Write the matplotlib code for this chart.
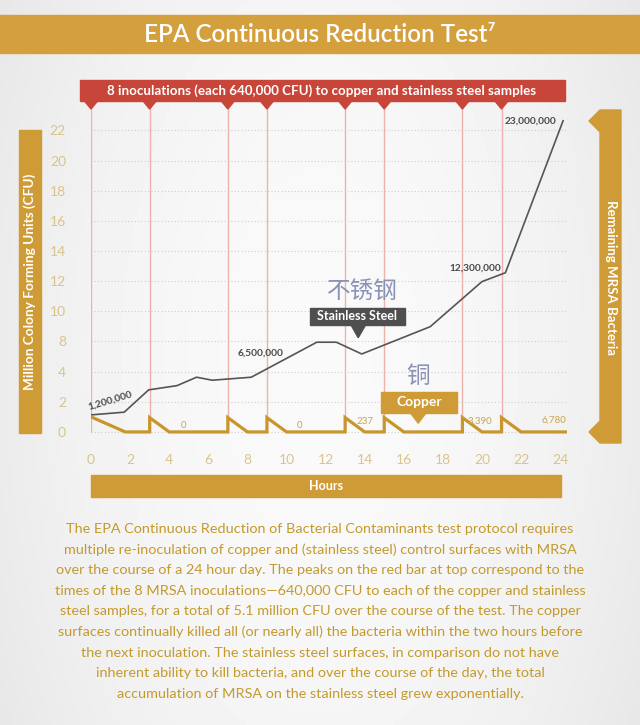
import numpy as np
import matplotlib
matplotlib.use("Agg")
import matplotlib.pyplot as plt
from matplotlib import transforms
from matplotlib.patches import Rectangle, Polygon

plt.rcParams['font.family'] = ['Lato', 'DejaVu Sans']

W, H = 640, 725
GOLD = '#cf9b36'
RED = '#c8453a'
GREY = '#555555'
PALE = '#d8c48c'
CJK = ['Noto Sans CJK SC', 'DejaVu Sans']

# hours of the 8 inoculations
inoc_hours = [0, 3, 7, 9, 13, 15, 19, 21]

# stainless steel curve, y in the chart's own units (its axis skips the "6")
steel_hours = [0, 1.7, 2.95, 4.4, 5.4, 6.2, 8.2, 11.55, 12.55, 13.85, 17.35, 20.0, 21.2, 24.15]
steel_y = [1.13, 1.31, 2.79, 3.07, 3.63, 3.43, 3.63, 5.95, 5.95, 5.17, 6.98, 9.97, 10.56, 20.64]

# copper sawtooth
copper_hours = [0, 1.75, 3, 3, 4, 7, 7, 8, 9, 9, 10, 13, 13, 14, 15, 15, 16, 19, 19, 20, 21, 21, 22, 24.3]
copper_y = [1.0, 0, 0, 0.95, 0, 0, 0.95, 0, 0, 0.95, 0, 0, 0.95, 0, 0, 0.95, 0, 0, 0.95, 0, 0, 0.95, 0, 0]

ytick_pos = [0, 2, 4, 6, 8, 10, 12, 14, 16, 18, 20]
ytick_labels = ['0', '2', '4', '8', '10', '12', '14', '16', '18', '20', '22']
xtick_pos = list(range(0, 25, 2))

steel_notes = [('1,200,000', 1.0, 2.05, 17), ('6,500,000', 8.65, 5.25, 0),
               ('12,300,000', 19.65, 10.85, 0), ('23,000,000', 22.5, 20.6, 0)]
copper_notes = [('0', 4.75, 0.45), ('0', 10.65, 0.45), ('237', 14.0, 0.68),
                ('3,390', 19.9, 0.72), ('6,780', 23.7, 0.8)]

paragraph = [
    "The EPA Continuous Reduction of Bacterial Contaminants test protocol requires",
    "multiple re-inoculation of copper and (stainless steel) control surfaces with MRSA",
    "over the course of a 24 hour day. The peaks on the red bar at top correspond to the",
    "times of the 8 MRSA inoculations\u2014640,000 CFU to each of the copper and stainless",
    "steel samples, for a total of 5.1 million CFU over the course of the test. The copper",
    "surfaces continually killed all (or nearly all) the bacteria within the two hours before",
    "the next inoculation. The stainless steel surfaces, in comparison do not have",
    "inherent ability to kill bacteria, and over the course of the day, the total",
    "accumulation of MRSA on the stainless steel grew exponentially.",
]


def fx(px):
    return px / W


def fy(py):
    return 1 - py / H


fig = plt.figure(figsize=(W / 100, H / 100), dpi=100)

# soft grey background
bg = fig.add_axes([0, 0, 1, 1], zorder=-10)
gx, gy = np.meshgrid(np.linspace(-1, 1, 200), np.linspace(-1, 1, 200))
shade = 0.978 - 0.06 * (gx ** 2 * 0.9 + gy ** 2 * 0.3)
bg.imshow(shade, cmap='gray', vmin=0, vmax=1, aspect='auto', extent=[0, 1, 0, 1])
bg.axis('off')

# title band
fig.patches.append(Rectangle((0, fy(53)), 1, fy(15) - fy(53), transform=fig.transFigure,
                             color='#d4a03e', zorder=1))
fig.text(0.5, fy(34), 'EPA Continuous Reduction Test\u2077', color='white', fontsize=17.5,
         ha='center', va='center', fontweight='semibold')

# main axes
ax = fig.add_axes([fx(91), fy(436), fx(567) - fx(91), fy(101) - fy(436)])
ax.set_facecolor('none')
ax.set_xlim(0, 24.35)
ax.set_ylim(-0.27, 21.95)
for s in ax.spines.values():
    s.set_visible(False)
ax.set_yticks(ytick_pos, ytick_labels)
ax.set_xticks(xtick_pos, [str(h) for h in xtick_pos])
ax.tick_params(length=0, colors=PALE, labelsize=10)
ax.tick_params(axis='y', pad=18)
ax.tick_params(axis='x', pad=13)
ax.grid(axis='y', color='#cfcfcf', ls=(0, (1, 2)), lw=0.8)

ax.vlines(inoc_hours, 0, 21.95, color='#ebb3aa', lw=1, zorder=1)
ax.plot(steel_hours, steel_y, color=GREY, lw=1.2, zorder=3)
ax.plot(copper_hours, copper_y, color='#c8962c', lw=2.3, zorder=3, solid_joinstyle='miter')

for txt, x, y, rot in steel_notes:
    ax.text(x, y, txt, color='#4a4a4a', fontsize=7.3, fontweight='bold', ha='center', va='center',
            rotation=rot)
for txt, x, y in copper_notes:
    ax.text(x, y, txt, color='#c9a54c', fontsize=7, ha='center', va='center')

# stainless steel callout
ax.add_patch(Rectangle((11.2, 7.1), 4.86, 1.14, color='#4f4f4f', zorder=4))
ax.add_patch(Polygon([(13.3, 7.1), (14.05, 7.1), (13.67, 6.25)], color='#4f4f4f', zorder=4))
ax.text(13.63, 7.67, 'Stainless Steel', color='white', fontsize=9, fontweight='bold',
        ha='center', va='center', zorder=5)
ax.text(13.9, 9.3, '不锈钢', family=CJK, color='#8b92b6', fontsize=17, ha='center', va='center')

# copper callout
ax.add_patch(Rectangle((14.82, 1.28), 3.92, 1.39, color=GOLD, zorder=4))
ax.add_patch(Polygon([(16.33, 1.28), (17.15, 1.28), (16.74, 0.58)], color=GOLD, zorder=4))
ax.text(16.78, 1.97, 'Copper', color='white', fontsize=10, fontweight='bold',
        ha='center', va='center', zorder=5)
ax.text(16.74, 3.7, '铜', family=CJK, color='#8b92b6', fontsize=17, ha='center', va='center')

# red inoculation bar with pointers
fig.patches.append(Rectangle((fx(80), fy(101)), fx(565) - fx(80), fy(80) - fy(101),
                             transform=fig.transFigure, color=RED, zorder=2))
fig.text(fx(322), fy(90.5), '8 inoculations (each 640,000 CFU) to copper and stainless steel samples',
         color='white', fontsize=9.6, fontweight='bold', ha='center', va='center', zorder=3)
blend = transforms.blended_transform_factory(ax.transData, fig.transFigure)
for h in inoc_hours:
    fig.patches.append(Polygon([(h - 0.38, fy(100)), (h + 0.38, fy(100)), (h, fy(109))],
                               transform=blend, color=RED, zorder=2))

# left axis label bar
fig.patches.append(Rectangle((fx(19), fy(433)), fx(41) - fx(19), fy(130) - fy(433),
                             transform=fig.transFigure, color=GOLD, zorder=1))
fig.text(fx(30), fy(282), 'Million Colony Forming Units (CFU)', color='white', fontsize=9.8,
         fontweight='bold', rotation=90, ha='center', va='center')

# right bracket
bracket = [(600, 110), (621, 110), (621, 443), (600, 443), (589, 432), (600, 421),
           (600, 132), (589, 121)]
fig.patches.append(Polygon([(fx(a), fy(b)) for a, b in bracket], transform=fig.transFigure,
                           color=GOLD, zorder=1))
fig.text(fx(611), fy(277), 'Remaining MRSA Bacteria', color='white', fontsize=9.5,
         fontweight='bold', rotation=-90, ha='center', va='center')

# hours bar
fig.patches.append(Rectangle((fx(91), fy(497)), fx(561) - fx(91), fy(475) - fy(497),
                             transform=fig.transFigure, color=GOLD, zorder=1))
fig.text(fx(326), fy(486), 'Hours', color='white', fontsize=9, fontweight='bold',
         ha='center', va='center')

# explanatory paragraph
for i, line in enumerate(paragraph):
    fig.text(0.5, fy(529 + i * 20.6), line, color='#c49a2c', fontsize=10.4,
             ha='center', va='center')

fig.savefig('out.png', dpi=100)
